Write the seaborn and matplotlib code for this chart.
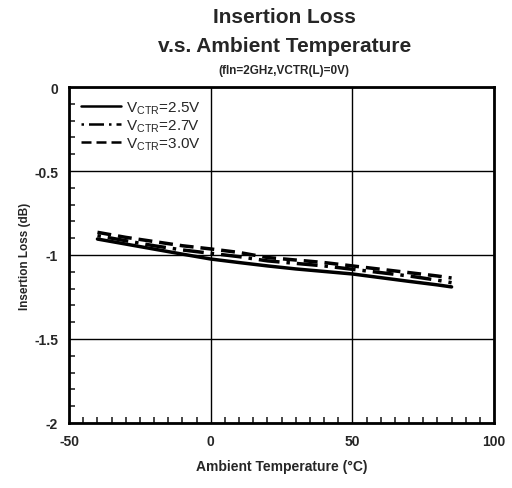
import numpy as np
import pandas as pd
import seaborn as sns
import matplotlib.pyplot as plt
from matplotlib.ticker import MultipleLocator

# Data
temp = [-40, -30, -20, -10, 0, 10, 20, 30, 40, 50, 60, 70, 80, 85]
il_25 = [-0.905, -0.935, -0.965, -0.995, -1.024, -1.045, -1.065, -1.083, -1.098, -1.113, -1.135, -1.157, -1.178, -1.19]
il_27 = [-0.885, -0.915, -0.945, -0.970, -0.990, -1.010, -1.035, -1.050, -1.065, -1.085, -1.105, -1.125, -1.150, -1.165]
il_30 = [-0.865, -0.895, -0.920, -0.945, -0.964, -0.985, -1.015, -1.030, -1.045, -1.065, -1.085, -1.105, -1.125, -1.137]
labels = [r'V$_{\mathregular{CTR}}$=2.5V', r'V$_{\mathregular{CTR}}$=2.7V', r'V$_{\mathregular{CTR}}$=3.0V']

df = pd.DataFrame({'temp': temp * 3,
                   'il': il_25 + il_27 + il_30,
                   'series': [labels[0]] * len(temp) + [labels[1]] * len(temp) + [labels[2]] * len(temp)})

sns.set_style('white')
plt.rcParams['font.family'] = ['Liberation Sans', 'DejaVu Sans']
plt.rcParams['font.weight'] = 'bold'
plt.rcParams['mathtext.fontset'] = 'custom'
plt.rcParams['mathtext.rm'] = 'Liberation Sans'

fig = plt.figure(figsize=(5.12, 4.89), dpi=100)
ax = fig.add_axes([0.135, 0.133, 0.83, 0.687])

dashes = {labels[0]: '', labels[1]: (1, 2, 6, 2), labels[2]: (4, 2)}
sns.lineplot(data=df, x='temp', y='il', hue='series', style='series', dashes=dashes,
             palette=['black'] * 3, linewidth=2.5, ax=ax)

ax.set_xlim(-50, 100)
ax.set_ylim(-2, 0)
ax.xaxis.set_minor_locator(MultipleLocator(5))
ax.yaxis.set_minor_locator(MultipleLocator(0.1))
ax.set_yticks([0, -0.5, -1, -1.5, -2])
ax.set_yticklabels(['0', '-0.5', '-1', '-1.5', '-2'])
ax.set_xticks([-50, 0, 50, 100])
ax.set_xticklabels(['-50', '0', '50', '100'])
ax.tick_params(which='both', direction='in', labelsize=10)
ax.tick_params(which='major', length=0, pad=8)
ax.tick_params(which='minor', length=4, width=1.2, bottom=True, left=True)
ax.grid(True, which='major', color='black', linewidth=1)
for s in ax.spines.values():
    s.set_color('black')
    s.set_linewidth(2)

ax.set_xlabel('Ambient Temperature (\u00b0C)', fontsize=10, fontweight='bold', labelpad=8)
ax.set_ylabel('Insertion Loss (dB)', fontsize=8.5, fontweight='bold', labelpad=2)

fig.text(0.555, 0.965, 'Insertion Loss', ha='center', va='center', fontsize=15, fontweight='bold')
fig.text(0.555, 0.905, 'v.s. Ambient Temperature', ha='center', va='center', fontsize=15, fontweight='bold')
fig.text(0.555, 0.855, '(fIn=2GHz,VCTR(L)=0V)', ha='center', va='center', fontsize=8.5, fontweight='bold')

leg = ax.legend(loc='upper left', frameon=False, handlelength=2.6, handletextpad=0.3,
                borderaxespad=0.4, labelspacing=0.1, prop={'weight': 'normal', 'size': 11})
for line in leg.get_lines():
    line.set_linewidth(1.8)

plt.savefig('out.png', dpi=100)
